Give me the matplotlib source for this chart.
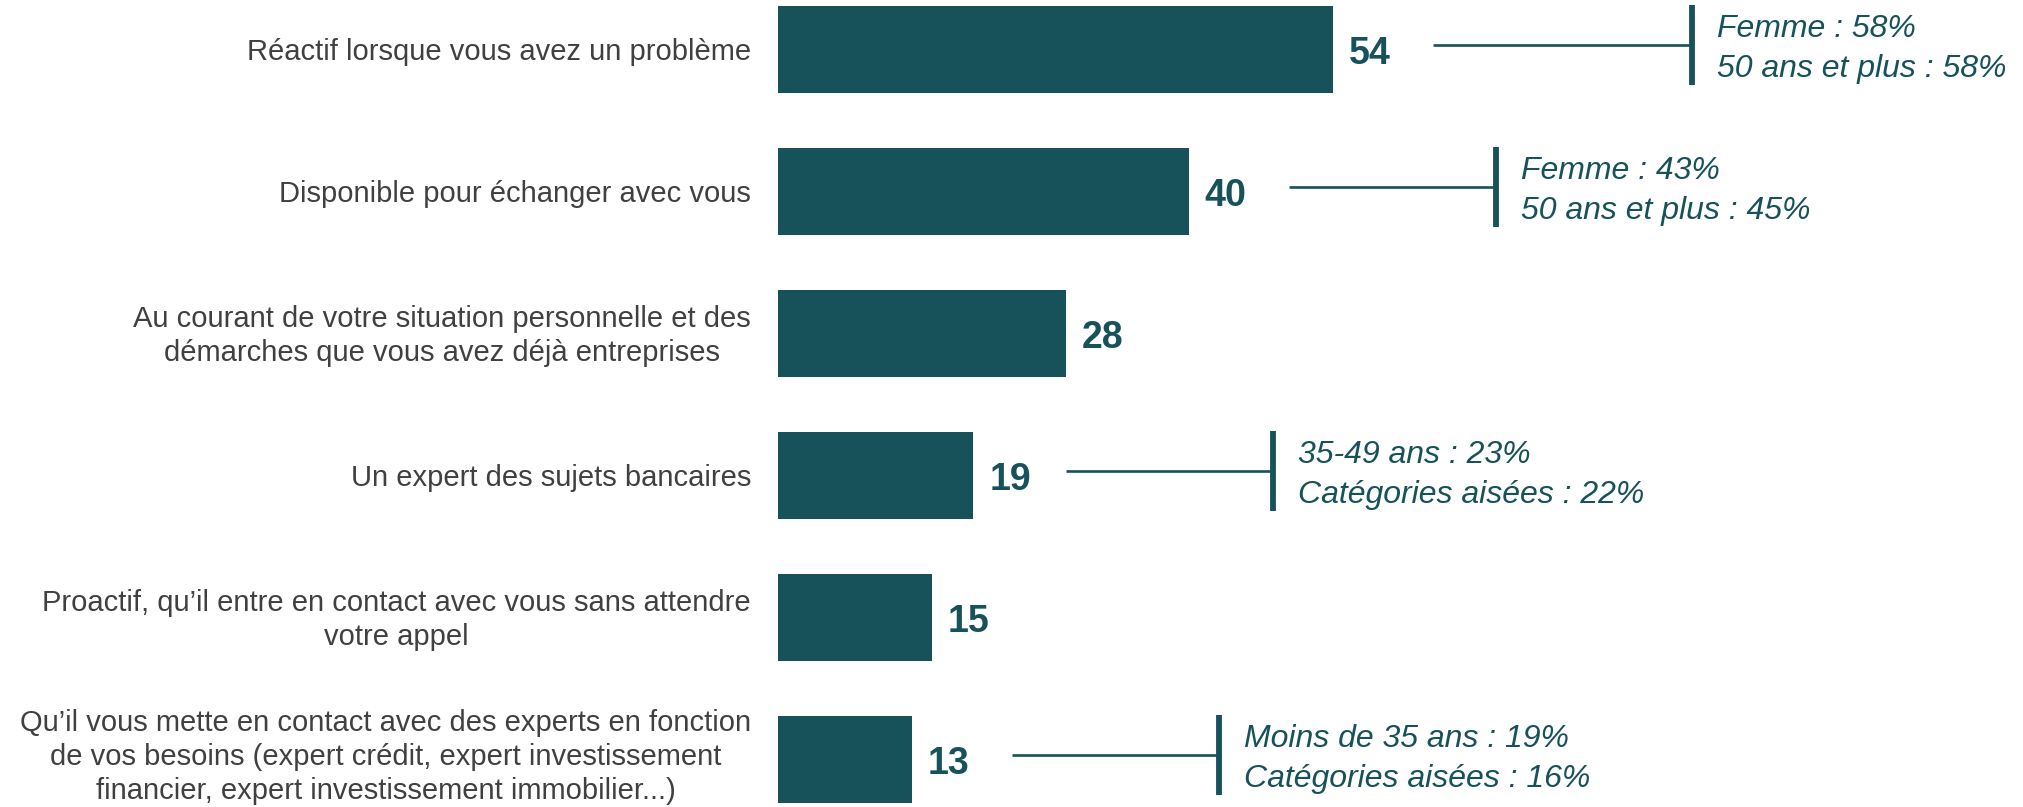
import matplotlib
matplotlib.use("Agg")
import matplotlib.pyplot as plt

# ---- data ----
categories = [
    "Réactif lorsque vous avez un problème",
    "Disponible pour échanger avec vous",
    "Au courant de votre situation personnelle et des\ndémarches que vous avez déjà entreprises",
    "Un expert des sujets bancaires",
    "Proactif, qu’il entre en contact avec vous sans attendre\nvotre appel",
    "Qu’il vous mette en contact avec des experts en fonction\nde vos besoins (expert crédit, expert investissement\nfinancier, expert investissement immobilier...)",
]
values = [54, 40, 28, 19, 15, 13]
callout_line1 = ["Femme : 58%", "Femme : 43%", None, "35-49 ans : 23%", None, "Moins de 35 ans : 19%"]
callout_line2 = ["50 ans et plus : 58%", "50 ans et plus : 45%", None, "Catégories aisées : 22%", None, "Catégories aisées : 16%"]

# ---- style ----
BAR = "#17525A"
GREY = "#404040"
W, H, DPI = 2023, 807, 100
PX_PER_UNIT = 10.27          # horizontal scale in pixels per value unit
LEFT_PX = 778
STEP_PX = 142
TOP_CENTER_PX = 49.5

plt.rcParams['font.family'] = ['Liberation Sans', 'DejaVu Sans']

fig = plt.figure(figsize=(W / DPI, H / DPI), dpi=DPI)
ax = fig.add_axes([LEFT_PX / W, 0, 1 - LEFT_PX / W, 1])
n = len(values)
ypos = list(range(n))
ax.set_xlim(0, (W - LEFT_PX) / PX_PER_UNIT)
ax.set_ylim(n - 1 + (H - (TOP_CENTER_PX + (n - 1) * STEP_PX)) / STEP_PX, -TOP_CENTER_PX / STEP_PX)
ax.axis("off")

ax.barh(ypos, values, height=0.61, color=BAR)

px = 1 / PX_PER_UNIT
for y, v, cat in zip(ypos, values, categories):
    ax.text(v + 16 * px, y, f"{v}", ha="left", va="center_baseline",
            fontsize=27, fontweight="bold", color=BAR)
    dy = 0.02 if cat.count("\n") < 2 else -0.02
    ax.text(-27 * px, y + dy, cat, ha="right", va="center", multialignment="center",
            fontsize=21, color=GREY, linespacing=1.28)

for y, v, l1, l2 in zip(ypos, values, callout_line1, callout_line2):
    if l1 is None:
        continue
    x0 = v + (100 if y != 3 else 93) * px
    x1 = x0 + (259 if y == 0 else 207) * px
    yl = y - 0.03
    ax.plot([x0, x1], [yl, yl], color=BAR, lw=1.9, solid_capstyle="butt")
    ax.plot([x1, x1], [y - 0.31, y + 0.25], color=BAR, lw=4.2, solid_capstyle="butt")
    ax.text(x1 + 25 * px, y - 0.088, l1, ha="left", va="baseline",
            fontsize=23, fontstyle="italic", color=BAR)
    ax.text(x1 + 25 * px, y + 0.194, l2, ha="left", va="baseline",
            fontsize=23, fontstyle="italic", color=BAR)

fig.savefig("out.png", dpi=DPI, facecolor="white")
